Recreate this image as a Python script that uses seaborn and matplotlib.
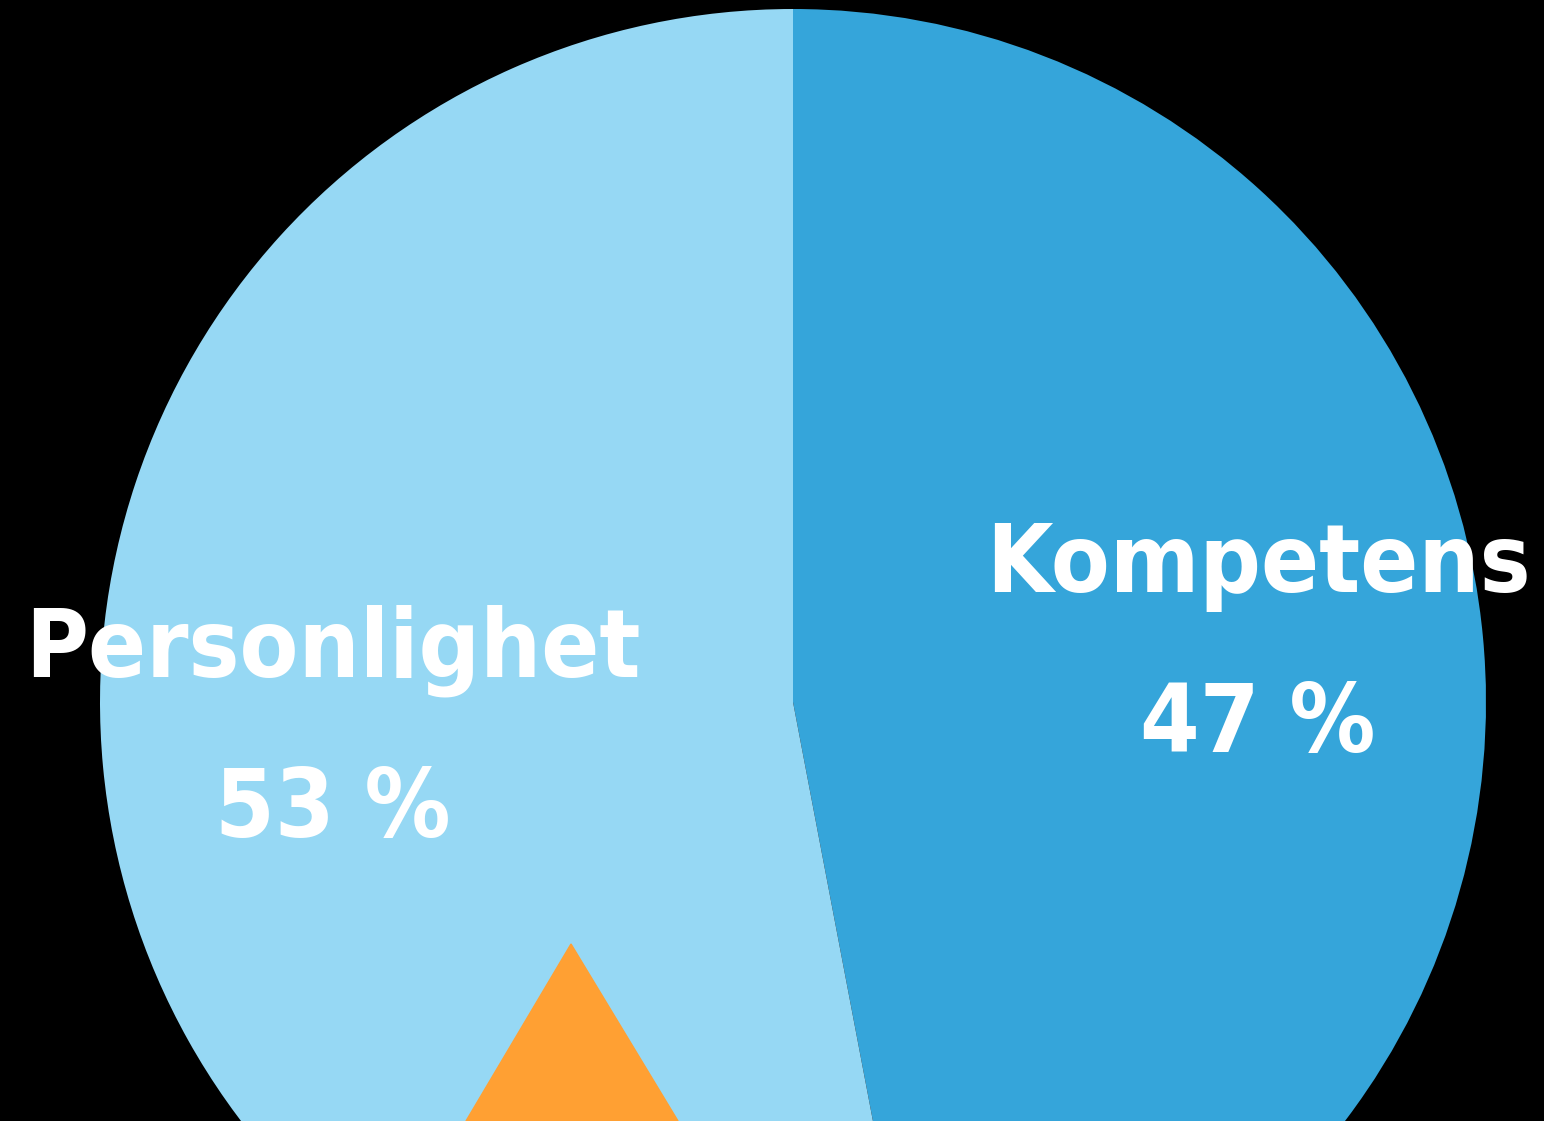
import os
import numpy as np
import matplotlib
matplotlib.use('Agg')
import matplotlib.pyplot as plt
from matplotlib import font_manager as fm
import seaborn as sns

sns.set_style('dark', {'axes.facecolor': 'black', 'figure.facecolor': 'black'})
plt.rcParams['font.family'] = ['Roboto', 'DejaVu Sans']

labels = ['Kompetens', 'Personlighet']
values = [47, 53]
colors = ['#35A5DA', '#96D8F4']

# orange triangle (decoration at the bottom)
tri_x = [466, 571, 678]
tri_y = [0, 177, 0]


def score(f):
    base = os.path.basename(f.fname)
    s = 0
    if 'Italic' in base or 'Oblique' in base:
        return -100
    if not ('Condensed' in base or 'Narrow' in base or 'condensed' in str(f.stretch)):
        return -100
    if 'ExtraCondensed' in base:
        s += 5
    elif 'SemiCondensed' in base:
        s += 1
    else:
        s += 3
    if 'Bold' in base and not any(k in base for k in ('SemiBold', 'ExtraBold', 'DemiBold')):
        s += 10
    if f.name.startswith('Noto Sans') and 'Mono' not in f.name:
        s += 4
    if any(f.name.startswith(n) for n in ('Roboto', 'Liberation', 'DejaVu', 'Open Sans')):
        s += 4
    if 'Display' in f.name:
        s -= 1
    return s


cands = sorted(fm.fontManager.ttflist, key=score, reverse=True)
if cands and score(cands[0]) > 0:
    fp = fm.FontProperties(fname=cands[0].fname)
else:
    fp = fm.FontProperties(family='Roboto', weight='bold')

W, H = 1544, 1121
fig = plt.figure(figsize=(W / 100, H / 100), dpi=100)
ax = fig.add_axes([0, 0, 1, 1])
ax.set_facecolor('black')

ax.pie(values, colors=colors, startangle=90, counterclock=False,
       radius=693, center=(793, 419), wedgeprops=dict(linewidth=0))
ax.fill(tri_x, tri_y, color='#FFA033', zorder=5)

ax.set_xlim(0, W)
ax.set_ylim(0, H)
ax.set_aspect('equal')
ax.set_axis_off()

# label text: (x centre, y centre of capitals) in picture pixels from the top
spots = [(1258, 557, labels[0]), (1258, 717, f'{values[0]} %'),
         (333, 642, labels[1]), (333, 802, f'{values[1]} %')]
txt = dict(color='white', ha='center', va='baseline', zorder=6, fontproperties=fp)
texts = [ax.text(x, H - y, s, **txt) for x, y, s in spots]

# size the texts so that the label widths match the picture
size = 118
for t in texts:
    t.set_fontsize(size)
fig.canvas.draw()
r = fig.canvas.get_renderer()
w1 = texts[0].get_window_extent(r).width
w3 = texts[2].get_window_extent(r).width
size *= min(545 / w1, 622 / w3, 1.15)
cap = 0.73 * size * 100 / 72
for t, (x, y, s) in zip(texts, spots):
    t.set_fontsize(size)
    t.set_position((x, H - y - cap / 2))

fig.savefig('out.png', dpi=100, facecolor='black')
